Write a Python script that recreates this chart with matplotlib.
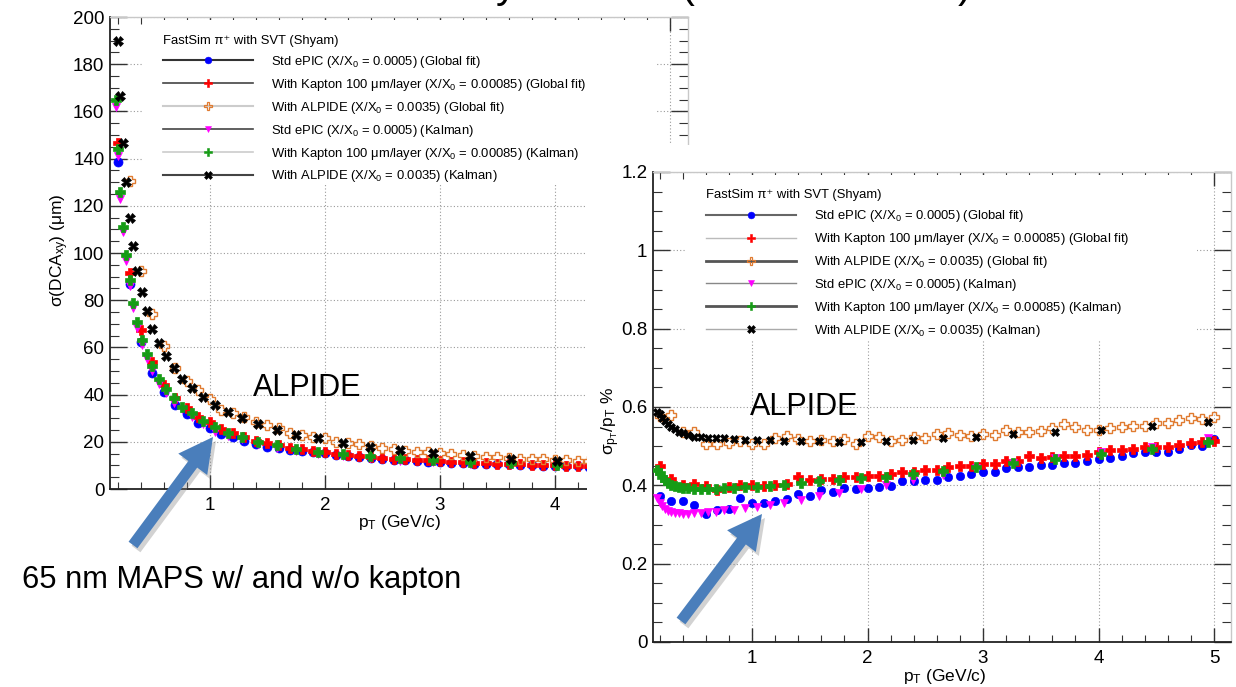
import numpy as np
import matplotlib
matplotlib.use("Agg")
import matplotlib.pyplot as plt
from matplotlib.lines import Line2D
from matplotlib.patches import Rectangle, FancyArrow
from matplotlib.ticker import MultipleLocator, FuncFormatter

plt.rcParams["font.family"] = ["Liberation Sans", "DejaVu Sans"]
plt.rcParams["mathtext.fontset"] = "custom"
plt.rcParams["mathtext.rm"] = "Liberation Sans"
plt.rcParams["mathtext.it"] = "Liberation Sans:italic"
plt.rcParams["mathtext.bf"] = "Liberation Sans:bold"

W, H = 1236, 687
nan = np.nan

# pT bins (GeV/c): global fit every 0.1, Kalman on a log-like grid
pt_global = [0.2, 0.3, 0.4, 0.5, 0.6, 0.7, 0.8, 0.9, 1.0, 1.1,
             1.2, 1.3, 1.4, 1.5, 1.6, 1.7, 1.8, 1.9, 2.0, 2.1,
             2.2, 2.3, 2.4, 2.5, 2.6, 2.7, 2.8, 2.9, 3.0, 3.1,
             3.2, 3.3, 3.4, 3.5, 3.6, 3.7, 3.8, 3.9, 4.0, 4.1,
             4.2, 4.3, 4.4, 4.5, 4.6, 4.7, 4.8, 4.9, 5.0]
pt_kalman = [0.18, 0.20, 0.22, 0.245, 0.27, 0.30, 0.33, 0.365, 0.405, 0.45,
             0.50, 0.555, 0.615, 0.685, 0.76, 0.845, 0.94, 1.04, 1.16, 1.28,
             1.42, 1.58, 1.75, 1.94, 2.16, 2.39, 2.65, 2.94, 3.26, 3.62,
             4.02, 4.46, 4.95]

# sigma(DCA_xy) in um
dca_std_glob = [138.5, 87, 62.4, 49.3, 41.2, 35.6, 31.6, 28.1, 25.7, 23.3,
                21.9, 20.3, 19.1, 17.9, 17.2, 16.5, 16.0, 15.5, 15.1, 14.4,
                13.9, 13.4, 13.1, 12.7, 12.4, 12.2, 11.9, 11.6, 11.3, 11.2,
                11.0, 10.8, 10.6, 10.5, 10.4, 10.2, 10.0, 9.9, 9.8, 9.7,
                9.6, 9.5, 9.4, 9.3, 9.2, 9.2, 9.1, 9.0, 9.0]
dca_kap_glob = [146.6, 91.5, 67.4, 53.9, 44.0, 38.4, 34.2, 30.6, 28.2, 25.4,
                23.9, 22.2, 20.3, 19.4, 18.8, 17.5, 16.8, 16.3, 15.8, 14.8,
                14.5, 14.0, 13.6, 13.2, 12.9, 12.6, 12.3, 12.1, 11.8, 11.5,
                11.3, 11.1, 10.9, 10.8, 10.6, 10.4, 10.3, 10.2, 10.0, 9.9,
                9.8, 9.7, 9.6, 9.5, 9.4, 9.4, 9.3, 9.2, 9.2]
dca_alp_glob = [nan, 130.5, 92.5, 74.0, 60.6, 51.4, 45.9, 42.0, 38.0, 33.5,
                32.3, 30.6, 28.5, 27.3, 25.7, 23.9, 22.9, 22.1, 21.5, 20.1,
                19.4, 18.9, 18.2, 17.5, 16.9, 16.0, 15.6, 15.7, 15.1, 14.8,
                14.5, 14.1, 13.7, 13.4, 13.0, 12.9, 12.6, 12.6, 12.3, 12.1,
                12.0, 11.9, 11.8, 11.7, 11.6, 11.5, 11.4, 11.3, 11.2]
dca_std_kal = [162, 141, 123, 109, 96.5, 86, 76.7, 68.4, 61, 55,
               50, 44.3, 40.5, 36.3, 33.8, 30.6, 27.5, 24.3, 22.5, 21.0,
               18.9, 17.5, 16.0, 15.0, 14.0, 13.0, 12.0, 11.3, 10.8, 10.2,
               9.7, 9.3, 9.0]
dca_kap_kal = [165, 144, 126, 111, 99, 88.5, 78.9, 70.6, 63, 57,
               52, 46.6, 42.4, 38.7, 34.9, 32.1, 28.9, 26.1, 23.9, 22.2,
               19.8, 18.6, 16.8, 15.8, 14.8, 14.0, 13.0, 12.4, 11.6, 11.1,
               10.2, 10.0, 9.5]
dca_alp_kal = [nan, 190, 166.5, 146.6, 130, 115, 103, 92.5, 83.5, 75.4,
               68, 62, 56.4, 51.3, 46.6, 42.8, 39, 35.6, 32.6, 30,
               27.5, 25, 23, 21.5, 19.5, 17.8, 16.5, 15.2, 14, 12.7,
               11.9, 11.4, 11.0]

# sigma(pT)/pT in %
res_std_glob = [0.373, 0.359, 0.361, 0.349, 0.327, 0.336, 0.340, 0.367, 0.355, 0.355,
                0.359, 0.365, 0.378, 0.373, 0.387, 0.382, 0.394, 0.390, 0.394, 0.397,
                0.399, 0.410, 0.410, 0.414, 0.414, 0.422, 0.425, 0.429, 0.435, 0.435,
                0.444, 0.447, 0.448, 0.452, 0.452, 0.456, 0.456, 0.462, 0.467, 0.471,
                0.475, 0.482, 0.485, 0.484, 0.484, 0.492, 0.503, 0.501, 0.518]
res_kap_glob = [0.450, 0.417, 0.401, 0.404, 0.399, 0.387, 0.395, 0.401, 0.401, 0.399,
                0.401, 0.404, 0.422, 0.414, 0.416, 0.417, 0.422, 0.422, 0.425, 0.425,
                0.429, 0.434, 0.435, 0.440, 0.440, 0.448, 0.450, 0.450, 0.455, 0.455,
                0.463, 0.463, 0.475, 0.471, 0.472, 0.475, 0.476, 0.478, 0.484, 0.489,
                0.490, 0.494, 0.497, 0.499, 0.499, 0.503, 0.509, 0.511, 0.514]
res_alp_glob = [0.577, 0.580, 0.537, 0.536, 0.506, 0.506, 0.507, 0.513, 0.506, 0.505,
                0.520, 0.526, 0.518, 0.512, 0.516, 0.513, 0.518, 0.506, 0.526, 0.524,
                0.513, 0.516, 0.524, 0.520, 0.531, 0.533, 0.529, 0.526, 0.531, 0.529,
                0.541, 0.535, 0.537, 0.540, 0.547, 0.556, 0.550, 0.541, 0.541, 0.546,
                0.550, 0.552, 0.552, 0.560, 0.560, 0.567, 0.571, 0.569, 0.575]
res_std_kal = [0.368, 0.355, 0.346, 0.339, 0.335, 0.332, 0.329, 0.329, 0.328, 0.328,
               0.329, 0.330, 0.332, 0.333, 0.336, 0.338, 0.342, 0.345, 0.350, 0.355,
               0.363, 0.372, 0.381, 0.390, 0.400, 0.414, 0.427, 0.443, 0.458, 0.470,
               0.485, 0.497, 0.522]
res_kap_kal = [0.438, 0.431, 0.421, 0.413, 0.407, 0.402, 0.398, 0.395, 0.393, 0.392,
               0.391, 0.391, 0.391, 0.391, 0.392, 0.393, 0.395, 0.397, 0.399, 0.402,
               0.407, 0.411, 0.414, 0.418, 0.421, 0.428, 0.437, 0.447, 0.457, 0.468,
               0.480, 0.492, 0.510]
res_alp_kal = [0.586, 0.581, 0.571, 0.563, 0.557, 0.550, 0.543, 0.537, 0.533, 0.529,
               0.524, 0.523, 0.522, 0.522, 0.521, 0.518, 0.516, 0.516, 0.516, 0.513,
               0.513, 0.513, 0.510, 0.510, 0.513, 0.516, 0.520, 0.524, 0.531, 0.535,
               0.541, 0.552, 0.562]

labels = [
    "Std ePIC (X/X$_{0}$ = 0.0005) (Global fit)",
    "With Kapton 100 μm/layer (X/X$_{0}$ = 0.00085) (Global fit)",
    "With ALPIDE (X/X$_{0}$ = 0.0035) (Global fit)",
    "Std ePIC (X/X$_{0}$ = 0.0005) (Kalman)",
    "With Kapton 100 μm/layer (X/X$_{0}$ = 0.00085) (Kalman)",
    "With ALPIDE (X/X$_{0}$ = 0.0035) (Kalman)",
]
header = "FastSim π⁺ with SVT (Shyam)"

# marker styles: (marker, size, face, edge)
styles = [
    ("o", 6.5, "#0000ff", "#0000ff"),
    ("P", 7.5, "#ff0000", "#ff0000"),
    ("P", 7.5, "none", "#e07b30"),
    ("v", 6.0, "#ff00ff", "#ff00ff"),
    ("P", 7.5, "#169c16", "#169c16"),
    ("X", 7.0, "#000000", "#000000"),
]


def px_axes(x0, y0, x1, y1, **kw):
    # pixel box (top-left origin) -> figure axes
    return fig.add_axes([x0 / W, 1 - y1 / H, (x1 - x0) / W, (y1 - y0) / H], **kw)


def style_axes(ax, ymajor, yminor):
    ax.set_axisbelow(True)
    ax.grid(True, which="major", ls=(0, (1, 2)), color="#9a9a9a", lw=0.8)
    ax.xaxis.set_major_locator(MultipleLocator(1))
    ax.xaxis.set_minor_locator(MultipleLocator(0.2))
    ax.yaxis.set_major_locator(MultipleLocator(ymajor))
    ax.yaxis.set_minor_locator(MultipleLocator(yminor))
    ax.tick_params(which="both", direction="in", top=True, right=True,
                   labelsize=13.5, color="#333333")
    ax.tick_params(axis="y", which="major", length=12, width=1.0, pad=4)
    ax.tick_params(axis="y", which="minor", length=6.5, width=0.8)
    ax.tick_params(axis="x", which="major", length=10, width=1.0, pad=6)
    ax.tick_params(axis="x", which="minor", length=5, width=0.8)
    for s in ("left", "bottom"):
        ax.spines[s].set_color("#222222")
        ax.spines[s].set_linewidth(1.3)
    for s in ("top", "right"):
        ax.spines[s].set_color("#c8c8c8")
        ax.spines[s].set_linewidth(1.0)
    ax.yaxis.set_major_formatter(FuncFormatter(lambda v, p: "%g" % round(v, 3)))


def draw_series(ax, series, shrink=1.0):
    xs = [pt_global, pt_global, pt_global, pt_kalman, pt_kalman, pt_kalman]
    for x, y, (m, ms, fc, ec) in zip(xs, series, styles):
        ax.plot(x, y, ls="none", marker=m, ms=ms * shrink, mfc=fc, mec=ec,
                mew=1.0 if fc == "none" else 0.5, zorder=3)


def add_legend(ax, box, anchor, line_cols, line_ws):
    ax.add_patch(Rectangle((box[0], box[1]), box[2] - box[0], box[3] - box[1],
                           transform=ax.transAxes, facecolor="white",
                           edgecolor="none", zorder=1))
    handles = []
    for (m, ms, fc, ec), c, lw in zip(styles, line_cols, line_ws):
        handles.append(Line2D([], [], color=c, lw=lw, marker=m, ms=ms * 0.75,
                              mfc=fc, mec=ec, mew=0.9 if fc == "none" else 0.4))
    leg = ax.legend(handles, labels, title=header, loc="upper left",
                    bbox_to_anchor=anchor, frameon=False, fontsize=9.4,
                    title_fontsize=9.4, alignment="left", handlelength=6.9,
                    handletextpad=1.4, labelspacing=0.53, borderpad=0,
                    borderaxespad=0)
    leg.set_zorder(5)
    return leg


fig = plt.figure(figsize=(W / 100, H / 100), dpi=100)

# ---- left plot: sigma(DCA_xy)
ax1 = px_axes(110, 17, 688, 489, zorder=0)
style_axes(ax1, 20, 5)
ax1.set_xlim(0.1304, 5.157)
ax1.set_ylim(0, 200)
draw_series(ax1, [dca_std_glob, dca_kap_glob, dca_alp_glob,
                  dca_std_kal, dca_kap_kal, dca_alp_kal])
add_legend(ax1, (0.057, 0.648, 0.946, 0.994), (0.091, 0.962),
           ["#333333", "#444444", "#cccccc", "#444444", "#cccccc", "#444444"],
           [1.5, 1.2, 1.5, 1.2, 1.2, 1.5])
ax1.set_ylabel("σ(DCA$_{\\mathrm{xy}}$) (μm)", fontsize=12.5)
ax1.yaxis.set_label_coords(-0.068, 0.506)
ax1.set_xlabel("p$_{\\mathrm{T}}$ (GeV/c)", fontsize=12.5, ha="right")
ax1.xaxis.set_label_coords(0.573, -0.05)
ax1.text(1.37, 42.8, "ALPIDE", fontsize=22, ha="left", va="center", zorder=6)

# white slide area under the second plot
fig.add_artist(Rectangle((587 / W, 0), 1 - 587 / W, 1 - 145 / H,
                         transform=fig.transFigure, facecolor="white",
                         edgecolor="none", zorder=1))

# ---- right plot: sigma(pT)/pT
ax2 = px_axes(653, 172, 1231, 642, zorder=2)
style_axes(ax2, 0.2, 0.05)
ax2.set_xlim(0.1429, 5.147)
ax2.set_ylim(0, 1.2)
draw_series(ax2, [res_std_glob, res_kap_glob, res_alp_glob,
                  res_std_kal, res_kap_kal, res_alp_kal], shrink=0.92)
add_legend(ax2, (0.057, 0.643, 0.941, 0.994), (0.091, 0.963),
           ["#666666", "#bbbbbb", "#555555", "#888888", "#555555", "#aaaaaa"],
           [1.5, 1.0, 2.0, 1.0, 2.0, 1.0])
ax2.set_ylabel("σ$_{\\mathrm{p_{T}}}$/p$_{\\mathrm{T}}$ %", fontsize=12.5)
ax2.yaxis.set_label_coords(-0.054, 0.47)
ax2.set_xlabel("p$_{\\mathrm{T}}$ (GeV/c)", fontsize=12.5, ha="right")
ax2.xaxis.set_label_coords(0.576, -0.053)
ax2.text(0.985, 0.6, "ALPIDE", fontsize=22, ha="left", va="center", zorder=6)

# ---- slide overlay: arrows, caption, clipped title
ov = fig.add_axes([0, 0, 1, 1], zorder=3)
ov.set_xlim(0, W)
ov.set_ylim(H, 0)
ov.axis("off")
ov.patch.set_alpha(0)

for (x0, y0, x1, y1) in [(133, 545, 213, 437), (681, 621, 762, 514)]:
    for dx, dy, col, a in [(3, 4, "#7f7f7f", 0.35), (0, 0, "#4a7ebb", 1.0)]:
        ov.add_patch(FancyArrow(x0 + dx, y0 + dy, x1 - x0, y1 - y0, width=11,
                                head_width=36, head_length=34,
                                length_includes_head=True, color=col,
                                alpha=a, lw=0))

ov.text(22, 580, "65 nm MAPS w/ and w/o kapton", fontsize=22.2,
        ha="left", va="center")
for x, ch in [(496, "y"), (680, "("), (958, ")")]:
    ov.text(x, -3, ch, fontsize=30, ha="left", va="baseline")

fig.savefig("out.png", dpi=100)
